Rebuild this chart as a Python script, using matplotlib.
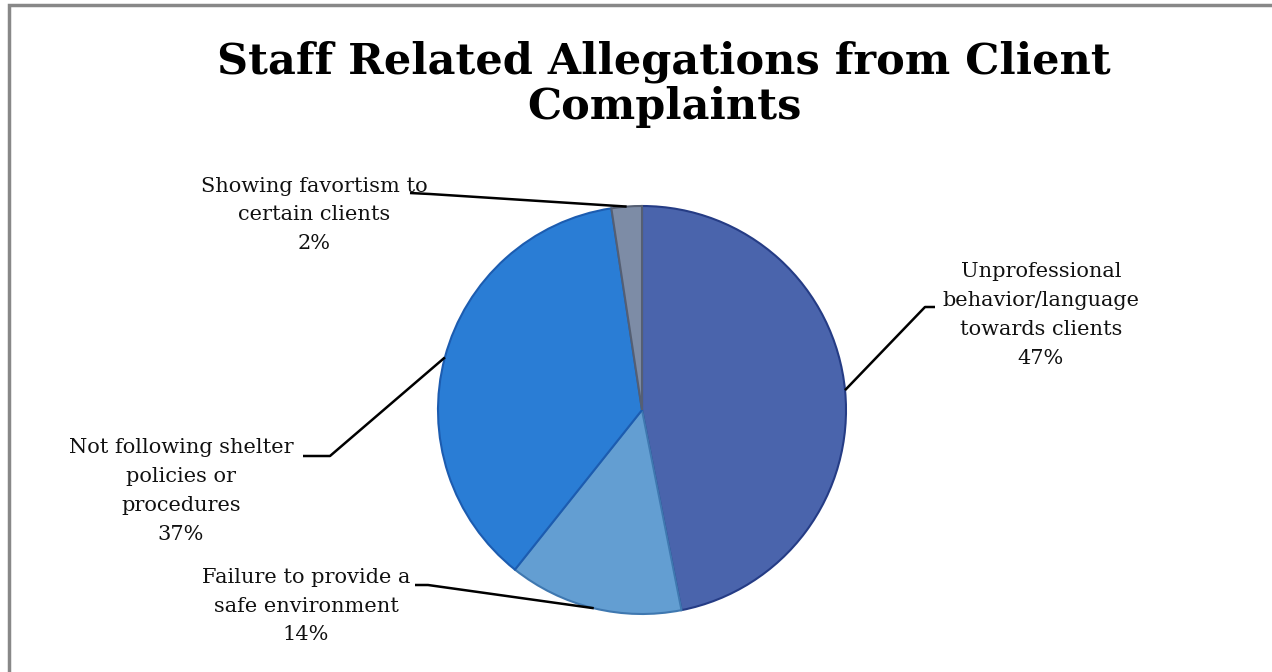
import matplotlib
matplotlib.use("Agg")
import matplotlib.pyplot as plt
from matplotlib.patches import Rectangle
import numpy as np

W, H = 1272, 672

title = "Staff Related Allegations from Client\nComplaints"
categories = [
    "Unprofessional\nbehavior/language\ntowards clients",
    "Failure to provide a\nsafe environment",
    "Not following shelter\npolicies or\nprocedures",
    "Showing favortism to\ncertain clients",
]
values = [46.9, 13.8, 36.9, 2.4]
colors = ["#4A64AC", "#639ED2", "#2A7DD5", "#7D8CA6"]
edge_colors = ["#253C85", "#3F78B0", "#1C5CB0", "#555F73"]

# label layout (pixel positions of text centre, elbow, and line end)
label_pos = [(1041, 315), (306, 606), (181, 491), (314, 215)]
elbows = [((925, 307), (935, 307)), ((428, 585), (415, 585)),
          ((330, 456), (303, 456)), ((430, 194), (410, 193))]

FONT = "DejaVu Serif"

fig = plt.figure(figsize=(W / 100, H / 100), dpi=100)

cx, cy, r = 642, 410, 204
ax = fig.add_axes([(cx - r) / W, (H - cy - r) / H, 2 * r / W, 2 * r / H])
wedges, _ = ax.pie(values, colors=colors, startangle=90, counterclock=False,
                   radius=1.0, wedgeprops=dict(linewidth=1.5))
for w, ec in zip(wedges, edge_colors):
    w.set_edgecolor(ec)
ax.set_xlim(-1, 1)
ax.set_ylim(-1, 1)
ax.set_aspect("equal")
ax.axis("off")


def to_data(px, py):
    return (px - cx) / r, (cy - py) / r


total = sum(values)
for w, cat, v, (tx, ty), (e1, e2) in zip(wedges, categories, values, label_pos, elbows):
    mid = np.deg2rad((w.theta1 + w.theta2) / 2)
    ax_, ay_ = np.cos(mid), np.sin(mid)
    x1, y1 = to_data(*e1)
    x2, y2 = to_data(*e2)
    ax.plot([ax_, x1, x2], [ay_, y1, y2], color="black", lw=1.8, clip_on=False,
            solid_capstyle="butt", zorder=5)
    txt = f"{cat}\n{round(v / total * 100):d}%"
    fig.text(tx / W, 1 - ty / H, txt, ha="center", va="center", family=FONT,
             fontsize=15, linespacing=1.65, color="#111111")

fig.text(664 / W, 1 - 84 / H, title, ha="center", va="center", family=FONT,
         fontweight="bold", fontsize=31, linespacing=1.1)

rect = Rectangle((9 / W, -0.1), 1.2, (H - 5) / H + 0.1, transform=fig.transFigure,
                 fill=False, edgecolor="#888888", lw=2.5)
fig.add_artist(rect)

fig.savefig("out.png", dpi=100)
